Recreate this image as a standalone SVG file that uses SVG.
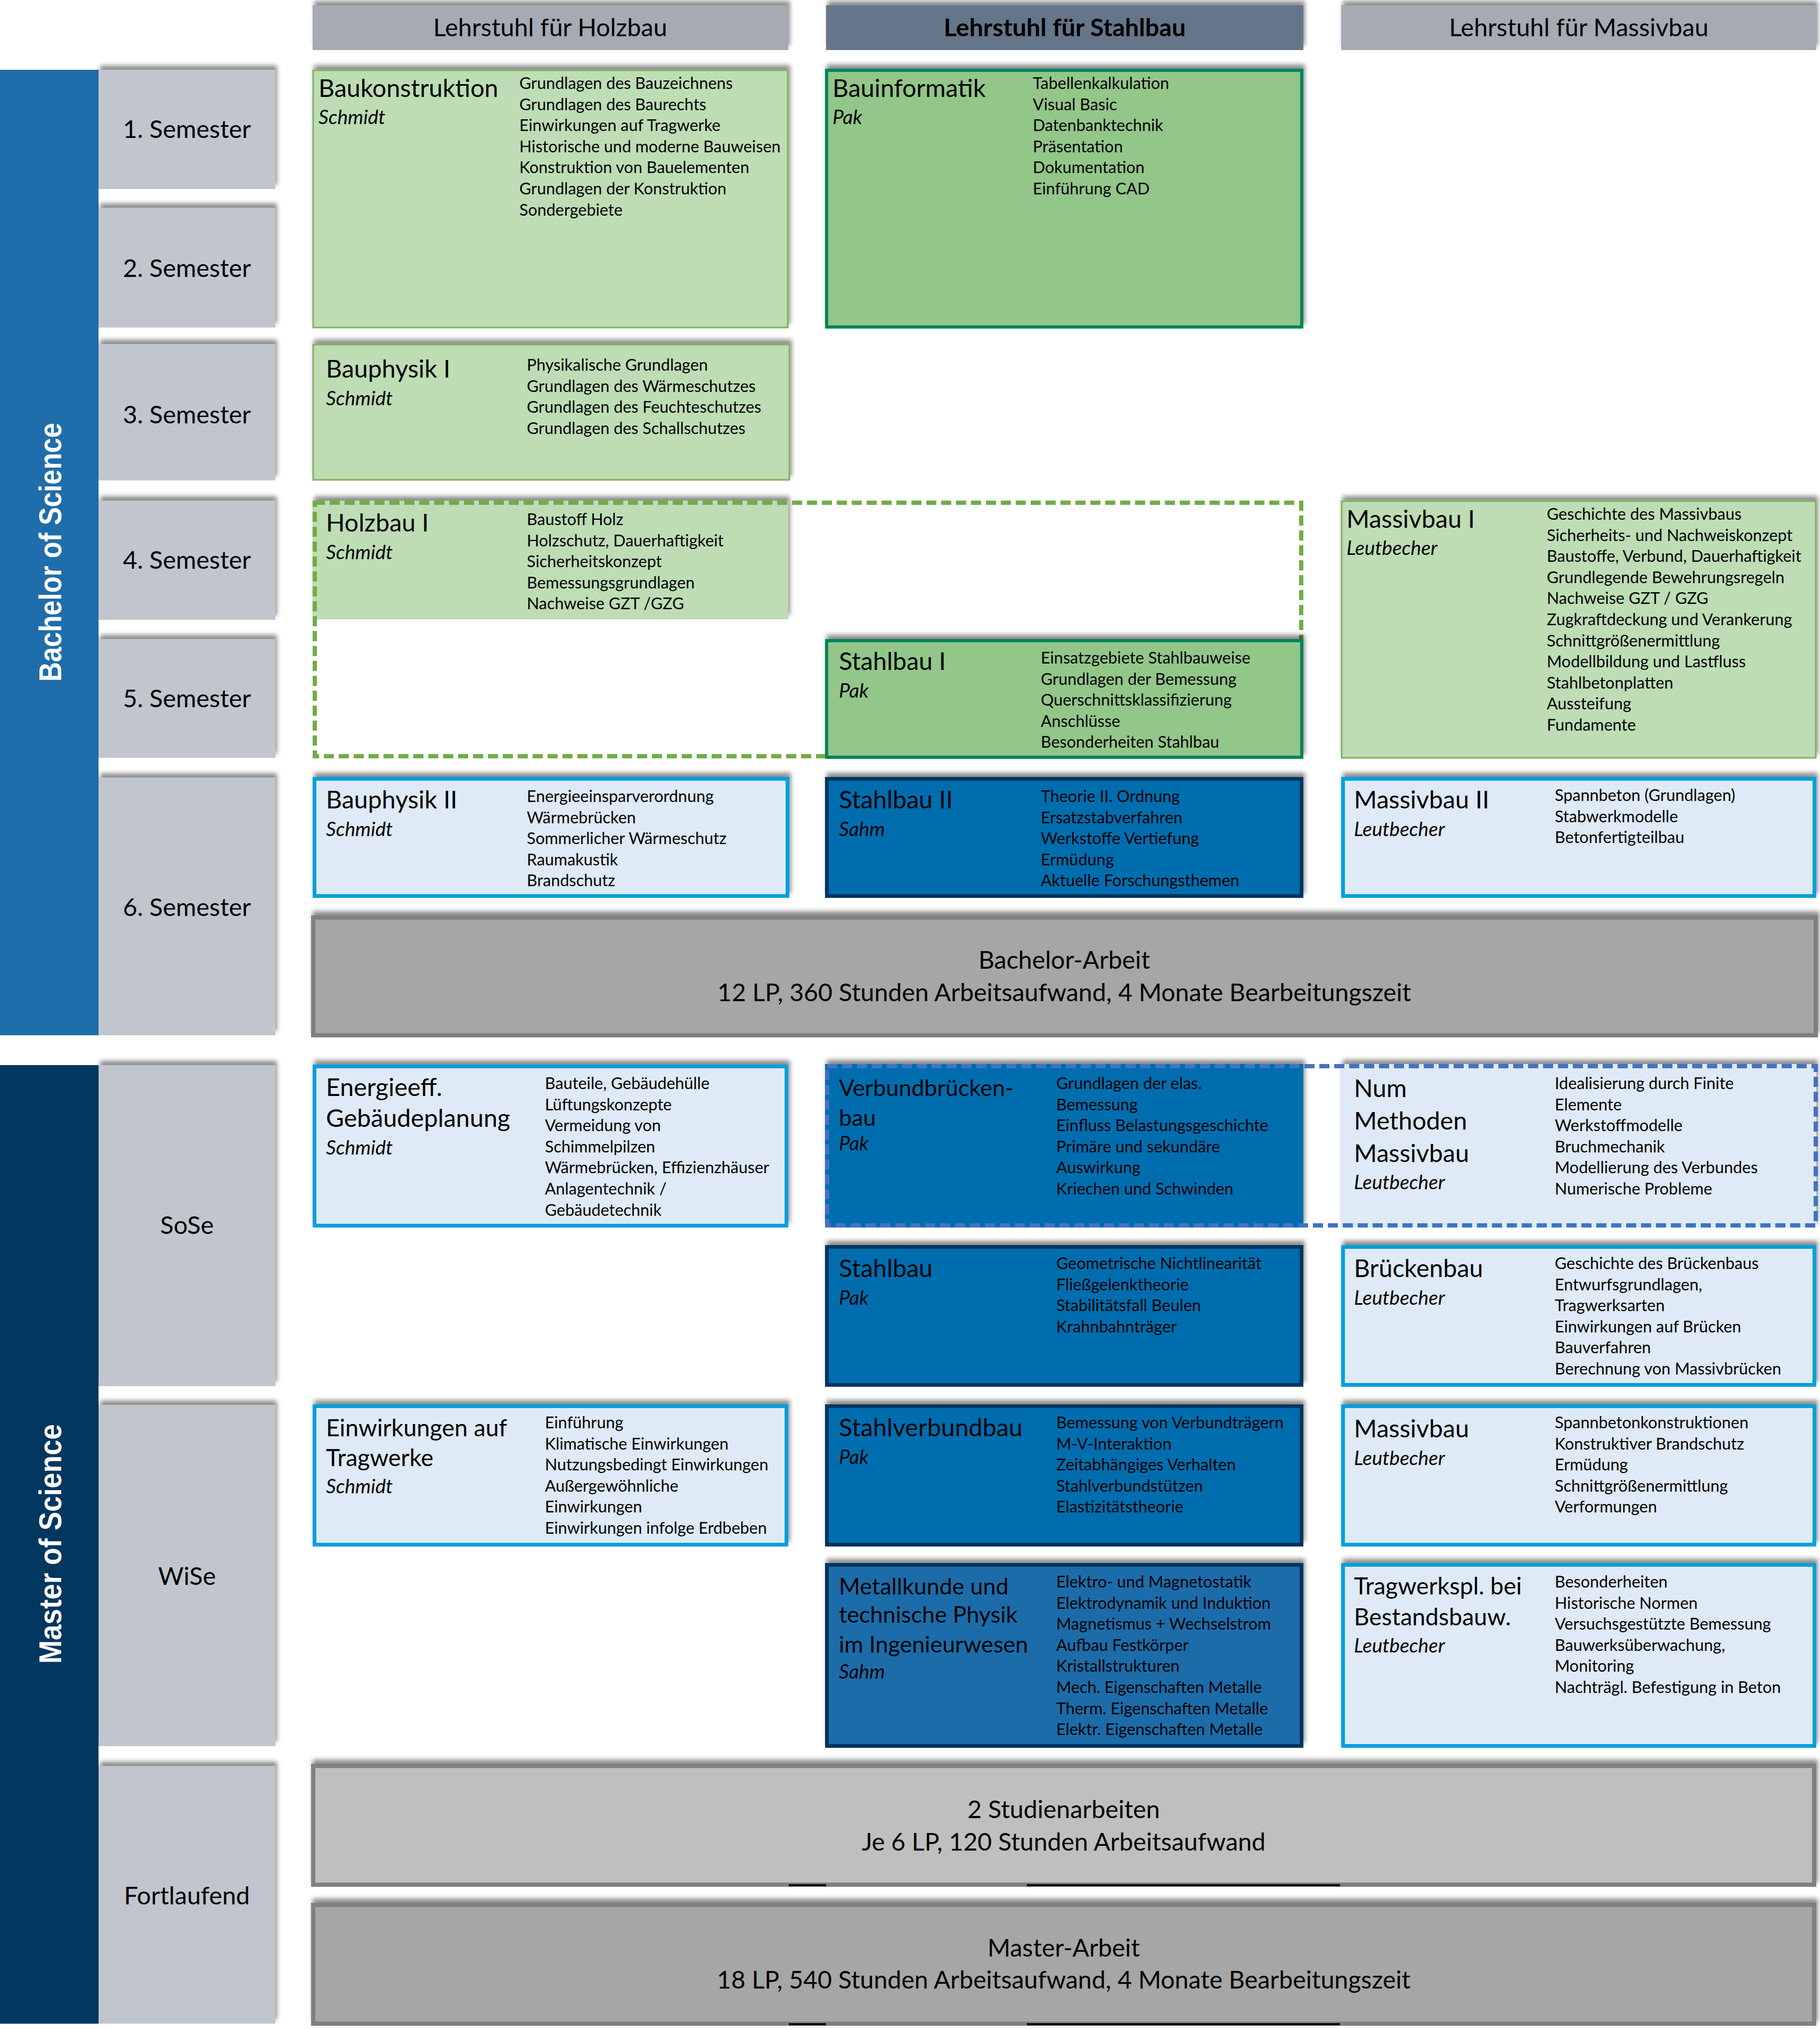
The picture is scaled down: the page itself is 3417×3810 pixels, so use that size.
<svg xmlns="http://www.w3.org/2000/svg" width="3417" height="3810" viewBox="0 0 3417 3810">
<defs>
<filter id="sh" x="-5%" y="-30%" width="110%" height="160%">
<feGaussianBlur in="SourceAlpha" stdDeviation="4"/>
<feOffset dx="3" dy="-8"/>
<feComponentTransfer><feFuncA type="linear" slope="0.45"/></feComponentTransfer>
<feMerge><feMergeNode/><feMergeNode in="SourceGraphic"/></feMerge>
</filter>
<style>
text{font-family:Lato,"Liberation Sans",sans-serif;fill:#000}
.hd{font-size:46.5px;text-anchor:middle}
.sem{font-size:46.5px;text-anchor:middle}
.ti{font-size:46.5px}
.ts{font-size:43px}
.tm{font-size:44.5px}
.nm{font-size:37px;font-style:italic}
.it{font-size:30.5px}
.big{font-size:46.4px;text-anchor:middle}
.vert{font-family:"Liberation Sans",Arial,sans-serif;font-weight:bold;font-size:60px;fill:#fff;text-anchor:middle}
.semb{fill:#C1C6CE}
.lg{fill:#BEDDB5;stroke:#7DB35E;stroke-width:3}
.mg{fill:#93C689;stroke:#00845C;stroke-width:6}
.lb{fill:#DEEAF6;stroke:#00A0DC;stroke-width:7}
.db{fill:#006DAE;stroke:#00355F;stroke-width:7}
.dash{fill:none;stroke-width:8;stroke-dasharray:19 9}
</style>
</defs>
<rect width="3417" height="3810" fill="#fff"/>

<g id="headers">
<g id="hdr-holzbau"><rect x="587" y="10" width="893" height="84" fill="#A5AAB3" filter="url(#sh)"/><text class="hd" x="1033" y="68">Lehrstuhl für Holzbau</text></g>
<g id="hdr-stahlbau"><rect x="1551" y="10" width="896" height="84" fill="#66768A" filter="url(#sh)"/><text class="hd" x="1999" y="68" font-weight="bold">Lehrstuhl für Stahlbau</text></g>
<g id="hdr-massivbau"><rect x="2518" y="10" width="892" height="84" fill="#A5AAB3" filter="url(#sh)"/><text class="hd" x="2964" y="68">Lehrstuhl für Massivbau</text></g>
</g>

<g id="bachelor">
<rect x="0" y="131" width="185" height="1813" fill="#1F6DAA"/>
<text class="vert" transform="translate(115,1037) rotate(-90)" textLength="486" lengthAdjust="spacingAndGlyphs">Bachelor of Science</text>
</g>
<g id="master">
<rect x="0" y="2000" width="185" height="1800" fill="#02375F"/>
<text class="vert" transform="translate(115,2899) rotate(-90)" textLength="450" lengthAdjust="spacingAndGlyphs">Master of Science</text>
</g>

<g id="semesters">
<g id="sem1"><rect class="semb" x="185" y="131" width="332" height="224" filter="url(#sh)"/><text class="sem" x="351" y="259">1. Semester</text></g>
<g id="sem2"><rect class="semb" x="185" y="390" width="332" height="225" filter="url(#sh)"/><text class="sem" x="351" y="520">2. Semester</text></g>
<g id="sem3"><rect class="semb" x="185" y="646" width="332" height="256" filter="url(#sh)"/><text class="sem" x="351" y="795">3. Semester</text></g>
<g id="sem4"><rect class="semb" x="185" y="940" width="332" height="224" filter="url(#sh)"/><text class="sem" x="351" y="1068">4. Semester</text></g>
<g id="sem5"><rect class="semb" x="185" y="1200" width="332" height="223" filter="url(#sh)"/><text class="sem" x="351" y="1328">5. Semester</text></g>
<g id="sem6"><rect class="semb" x="185" y="1460" width="332" height="484" filter="url(#sh)"/><text class="sem" x="351" y="1720">6. Semester</text></g>
<g id="sose"><rect class="semb" x="185" y="2000" width="332" height="603" filter="url(#sh)"/><text class="sem" x="351" y="2317">SoSe</text></g>
<g id="wise"><rect class="semb" x="185" y="2638" width="332" height="641" filter="url(#sh)"/><text class="sem" x="351" y="2976">WiSe</text></g>
<g id="fortlaufend"><rect class="semb" x="185" y="3316" width="332" height="484" filter="url(#sh)"/><text class="sem" x="351" y="3576">Fortlaufend</text></g>
</g>

<g id="baukonstruktion">
<rect class="lg" x="588" y="132" width="891" height="483" filter="url(#sh)"/>
<text class="ti" x="598" y="182">Baukonstruktion</text>
<text class="nm" x="598" y="233">Schmidt</text>
<text class="it" x="975" y="167">Grundlagen des Bauzeichnens</text>
<text class="it" x="975" y="206.6">Grundlagen des Baurechts</text>
<text class="it" x="975" y="246.2">Einwirkungen auf Tragwerke</text>
<text class="it" x="975" y="285.8">Historische und moderne Bauweisen</text>
<text class="it" x="975" y="325.4">Konstruktion von Bauelementen</text>
<text class="it" x="975" y="365">Grundlagen der Konstruktion</text>
<text class="it" x="975" y="404.6">Sondergebiete</text>
</g>

<g id="bauinformatik">
<rect class="mg" x="1552" y="132" width="892" height="482" filter="url(#sh)"/>
<text class="ti" x="1563" y="182">Bauinformatik</text>
<text class="nm" x="1563" y="233">Pak</text>
<text class="it" x="1939" y="167">Tabellenkalkulation</text>
<text class="it" x="1939" y="206.6">Visual Basic</text>
<text class="it" x="1939" y="246.2">Datenbanktechnik</text>
<text class="it" x="1939" y="285.8">Präsentation</text>
<text class="it" x="1939" y="325.4">Dokumentation</text>
<text class="it" x="1939" y="365">Einführung CAD</text>
</g>

<g id="bauphysik1">
<rect class="lg" x="588" y="647" width="894" height="254" filter="url(#sh)"/>
<text class="ti" x="612" y="709">Bauphysik I</text>
<text class="nm" x="612" y="761">Schmidt</text>
<text class="it" x="989" y="696">Physikalische Grundlagen</text>
<text class="it" x="989" y="735.6">Grundlagen des Wärmeschutzes</text>
<text class="it" x="989" y="775.2">Grundlagen des Feuchteschutzes</text>
<text class="it" x="989" y="814.8">Grundlagen des Schallschutzes</text>
</g>

<g id="holzbau1">
<rect x="587" y="940" width="893" height="223" fill="#BEDDB5" filter="url(#sh)"/>
<rect class="dash" x="591" y="944" width="1852" height="476" stroke="#70AD47"/>
<text class="ti" x="612" y="998">Holzbau I</text>
<text class="nm" x="612" y="1050">Schmidt</text>
<text class="it" x="989" y="986">Baustoff Holz</text>
<text class="it" x="989" y="1025.6">Holzschutz, Dauerhaftigkeit</text>
<text class="it" x="989" y="1065.2">Sicherheitskonzept</text>
<text class="it" x="989" y="1104.8">Bemessungsgrundlagen</text>
<text class="it" x="989" y="1144.4">Nachweise GZT /GZG</text>
</g>

<g id="massivbau1">
<rect class="lg" x="2519" y="941" width="890" height="482" filter="url(#sh)"/>
<text class="ti" x="2528" y="991">Massivbau I</text>
<text class="nm" x="2528" y="1042">Leutbecher</text>
<text class="it" x="2904" y="976">Geschichte des Massivbaus</text>
<text class="it" x="2904" y="1015.6">Sicherheits- und Nachweiskonzept</text>
<text class="it" x="2904" y="1055.2">Baustoffe, Verbund, Dauerhaftigkeit</text>
<text class="it" x="2904" y="1094.8">Grundlegende Bewehrungsregeln</text>
<text class="it" x="2904" y="1134.4">Nachweise GZT / GZG</text>
<text class="it" x="2904" y="1174">Zugkraftdeckung und Verankerung</text>
<text class="it" x="2904" y="1213.6">Schnittgrößenermittlung</text>
<text class="it" x="2904" y="1253.2">Modellbildung und Lastfluss</text>
<text class="it" x="2904" y="1292.8">Stahlbetonplatten</text>
<text class="it" x="2904" y="1332.4">Aussteifung</text>
<text class="it" x="2904" y="1372">Fundamente</text>
</g>

<g id="stahlbau1">
<rect class="mg" x="1552" y="1203" width="892" height="219" filter="url(#sh)"/>
<text class="ti" x="1575" y="1258">Stahlbau I</text>
<text class="nm" x="1575" y="1310">Pak</text>
<text class="it" x="1954" y="1246">Einsatzgebiete Stahlbauweise</text>
<text class="it" x="1954" y="1285.6">Grundlagen der Bemessung</text>
<text class="it" x="1954" y="1325.2">Querschnittsklassifizierung</text>
<text class="it" x="1954" y="1364.8">Anschlüsse</text>
<text class="it" x="1954" y="1404.4">Besonderheiten Stahlbau</text>
</g>

<g id="bauphysik2">
<rect class="lb" x="590.5" y="1462.5" width="888" height="220" filter="url(#sh)"/>
<text class="ti" x="612" y="1518">Bauphysik II</text>
<text class="nm" x="612" y="1570">Schmidt</text>
<text class="it" x="989" y="1506">Energieeinsparverordnung</text>
<text class="it" x="989" y="1545.6">Wärmebrücken</text>
<text class="it" x="989" y="1585.2">Sommerlicher Wärmeschutz</text>
<text class="it" x="989" y="1624.8">Raumakustik</text>
<text class="it" x="989" y="1664.4">Brandschutz</text>
</g>

<g id="stahlbau2">
<rect class="db" x="1552.5" y="1462.5" width="891" height="220" filter="url(#sh)"/>
<text class="ti" x="1575" y="1518">Stahlbau II</text>
<text class="nm" x="1575" y="1570">Sahm</text>
<text class="it" x="1954" y="1506">Theorie II. Ordnung</text>
<text class="it" x="1954" y="1545.6">Ersatzstabverfahren</text>
<text class="it" x="1954" y="1585.2">Werkstoffe Vertiefung</text>
<text class="it" x="1954" y="1624.8">Ermüdung</text>
<text class="it" x="1954" y="1664.4">Aktuelle Forschungsthemen</text>
</g>

<g id="massivbau2">
<rect class="lb" x="2521.5" y="1462.5" width="885" height="220" filter="url(#sh)"/>
<text class="ti" x="2542" y="1518">Massivbau II</text>
<text class="nm" x="2542" y="1570">Leutbecher</text>
<text class="it" x="2919" y="1504">Spannbeton (Grundlagen)</text>
<text class="it" x="2919" y="1543.6">Stabwerkmodelle</text>
<text class="it" x="2919" y="1583.2">Betonfertigteilbau</text>
</g>

<g id="bachelorarbeit">
<rect x="588" y="1723" width="2821" height="221" fill="#A6A6A6" stroke="#808080" stroke-width="8" filter="url(#sh)"/>
<text class="big" x="1998" y="1819">Bachelor-Arbeit</text>
<text class="big" x="1998" y="1880">12 LP, 360 Stunden Arbeitsaufwand, 4 Monate Bearbeitungszeit</text>
</g>

<g id="energieeff">
<rect class="lb" x="590.5" y="2002.5" width="886" height="299" filter="url(#sh)"/>
<text class="ti" x="612" y="2058">Energieeff.</text>
<text class="ti" x="612" y="2116">Gebäudeplanung</text>
<text class="nm" x="612" y="2168">Schmidt</text>
<text class="it" x="1023" y="2045">Bauteile, Gebäudehülle</text>
<text class="it" x="1023" y="2084.6">Lüftungskonzepte</text>
<text class="it" x="1023" y="2124.2">Vermeidung von</text>
<text class="it" x="1023" y="2163.8">Schimmelpilzen</text>
<text class="it" x="1023" y="2203.4">Wärmebrücken, Effizienzhäuser</text>
<text class="it" x="1023" y="2243">Anlagentechnik /</text>
<text class="it" x="1023" y="2282.6">Gebäudetechnik</text>
</g>

<g id="verbundbrueckenbau">
<rect x="1549" y="1998" width="898" height="307" fill="#006DAE" filter="url(#sh)"/>
<text class="ts" x="1575" y="2058">Verbundbrücken-</text>
<text class="ts" x="1575" y="2114">bau</text>
<text class="nm" x="1575" y="2160">Pak</text>
<text class="it" x="1983" y="2045">Grundlagen der elas.</text>
<text class="it" x="1983" y="2084.6">Bemessung</text>
<text class="it" x="1983" y="2124.2">Einfluss Belastungsgeschichte</text>
<text class="it" x="1983" y="2163.8">Primäre und sekundäre</text>
<text class="it" x="1983" y="2203.4">Auswirkung</text>
<text class="it" x="1983" y="2243">Kriechen und Schwinden</text>
</g>

<g id="nummethoden">
<rect x="2518" y="1998" width="892" height="307" fill="#DEEAF6" filter="url(#sh)"/>
<text class="ti" x="2542" y="2060">Num</text>
<text class="ti" x="2542" y="2121">Methoden</text>
<text class="ti" x="2542" y="2182">Massivbau</text>
<text class="nm" x="2542" y="2233">Leutbecher</text>
<text class="it" x="2919" y="2045">Idealisierung durch Finite</text>
<text class="it" x="2919" y="2084.6">Elemente</text>
<text class="it" x="2919" y="2124.2">Werkstoffmodelle</text>
<text class="it" x="2919" y="2163.8">Bruchmechanik</text>
<text class="it" x="2919" y="2203.4">Modellierung des Verbundes</text>
<text class="it" x="2919" y="2243">Numerische Probleme</text>
</g>
<rect id="wahl-rahmen" class="dash" x="1553" y="2002" width="1856" height="299" stroke="#4472C4"/>

<g id="stahlbau-m">
<rect class="db" x="1552.5" y="2341.5" width="891" height="259" filter="url(#sh)"/>
<text class="ti" x="1575" y="2398">Stahlbau</text>
<text class="nm" x="1575" y="2450">Pak</text>
<text class="it" x="1983" y="2383">Geometrische Nichtlinearität</text>
<text class="it" x="1983" y="2422.6">Fließgelenktheorie</text>
<text class="it" x="1983" y="2462.2">Stabilitätsfall Beulen</text>
<text class="it" x="1983" y="2501.8">Krahnbahnträger</text>
</g>

<g id="brueckenbau">
<rect class="lb" x="2521.5" y="2341.5" width="885" height="259" filter="url(#sh)"/>
<text class="ti" x="2542" y="2398">Brückenbau</text>
<text class="nm" x="2542" y="2450">Leutbecher</text>
<text class="it" x="2919" y="2383">Geschichte des Brückenbaus</text>
<text class="it" x="2919" y="2422.6">Entwurfsgrundlagen,</text>
<text class="it" x="2919" y="2462.2">Tragwerksarten</text>
<text class="it" x="2919" y="2501.8">Einwirkungen auf Brücken</text>
<text class="it" x="2919" y="2541.4">Bauverfahren</text>
<text class="it" x="2919" y="2581">Berechnung von Massivbrücken</text>
</g>

<g id="einwirkungen">
<rect class="lb" x="590.5" y="2640.5" width="886" height="260" filter="url(#sh)"/>
<text class="tm" x="612" y="2697">Einwirkungen auf</text>
<text class="tm" x="612" y="2753">Tragwerke</text>
<text class="nm" x="612" y="2804">Schmidt</text>
<text class="it" x="1023" y="2682">Einführung</text>
<text class="it" x="1023" y="2721.6">Klimatische Einwirkungen</text>
<text class="it" x="1023" y="2761.2">Nutzungsbedingt Einwirkungen</text>
<text class="it" x="1023" y="2800.8">Außergewöhnliche</text>
<text class="it" x="1023" y="2840.4">Einwirkungen</text>
<text class="it" x="1023" y="2880">Einwirkungen infolge Erdbeben</text>
</g>

<g id="stahlverbundbau">
<rect class="db" x="1552.5" y="2640.5" width="891" height="260" filter="url(#sh)"/>
<text class="ti" x="1575" y="2697">Stahlverbundbau</text>
<text class="nm" x="1575" y="2749">Pak</text>
<text class="it" x="1983" y="2682">Bemessung von Verbundträgern</text>
<text class="it" x="1983" y="2721.6">M-V-Interaktion</text>
<text class="it" x="1983" y="2761.2">Zeitabhängiges Verhalten</text>
<text class="it" x="1983" y="2800.8">Stahlverbundstützen</text>
<text class="it" x="1983" y="2840.4">Elastizitätstheorie</text>
</g>

<g id="massivbau-m">
<rect class="lb" x="2521.5" y="2640.5" width="885" height="260" filter="url(#sh)"/>
<text class="ti" x="2542" y="2699">Massivbau</text>
<text class="nm" x="2542" y="2751">Leutbecher</text>
<text class="it" x="2919" y="2682">Spannbetonkonstruktionen</text>
<text class="it" x="2919" y="2721.6">Konstruktiver Brandschutz</text>
<text class="it" x="2919" y="2761.2">Ermüdung</text>
<text class="it" x="2919" y="2800.8">Schnittgrößenermittlung</text>
<text class="it" x="2919" y="2840.4">Verformungen</text>
</g>

<g id="metallkunde">
<rect x="1552.5" y="2938.5" width="891" height="340" fill="#1E6CAA" stroke="#00355F" stroke-width="7" filter="url(#sh)"/>
<text class="ts" x="1575" y="2994">Metallkunde und</text>
<text class="ts" x="1575" y="3047">technische Physik</text>
<text class="ts" x="1575" y="3103">im Ingenieurwesen</text>
<text class="nm" x="1575" y="3152">Sahm</text>
<text class="it" x="1983" y="2981">Elektro- und Magnetostatik</text>
<text class="it" x="1983" y="3020.6">Elektrodynamik und Induktion</text>
<text class="it" x="1983" y="3060.2">Magnetismus + Wechselstrom</text>
<text class="it" x="1983" y="3099.8">Aufbau Festkörper</text>
<text class="it" x="1983" y="3139.4">Kristallstrukturen</text>
<text class="it" x="1983" y="3179">Mech. Eigenschaften Metalle</text>
<text class="it" x="1983" y="3218.6">Therm. Eigenschaften Metalle</text>
<text class="it" x="1983" y="3258.2">Elektr. Eigenschaften Metalle</text>
</g>

<g id="tragwerksplanung">
<rect class="lb" x="2521.5" y="2938.5" width="885" height="340" filter="url(#sh)"/>
<text class="tm" x="2542" y="2994">Tragwerkspl. bei</text>
<text class="tm" x="2542" y="3052">Bestandsbauw.</text>
<text class="nm" x="2542" y="3103">Leutbecher</text>
<text class="it" x="2919" y="2981">Besonderheiten</text>
<text class="it" x="2919" y="3020.6">Historische Normen</text>
<text class="it" x="2919" y="3060.2">Versuchsgestützte Bemessung</text>
<text class="it" x="2919" y="3099.8">Bauwerksüberwachung,</text>
<text class="it" x="2919" y="3139.4">Monitoring</text>
<text class="it" x="2919" y="3179">Nachträgl. Befestigung in Beton</text>
</g>

<g id="studienarbeiten">
<rect x="588" y="3316" width="2818" height="223" fill="#BFBFBF" stroke="#808080" stroke-width="8" filter="url(#sh)"/>
<path d="M1481 3540H1551M1928 3540H2516" stroke="#000" stroke-width="4"/>
<text class="big" x="1997" y="3414">2 Studienarbeiten</text>
<text class="big" x="1997" y="3475">Je 6 LP, 120 Stunden Arbeitsaufwand</text>
</g>

<g id="masterarbeit">
<rect x="588" y="3577" width="2818" height="223" fill="#A6A6A6" stroke="#808080" stroke-width="8" filter="url(#sh)"/>
<path d="M1481 3801H1551M1928 3801H2516" stroke="#000" stroke-width="4"/>
<text class="big" x="1997" y="3674">Master-Arbeit</text>
<text class="big" x="1997" y="3734">18 LP, 540 Stunden Arbeitsaufwand, 4 Monate Bearbeitungszeit</text>
</g>

<g id="connectors"/>
</svg>
